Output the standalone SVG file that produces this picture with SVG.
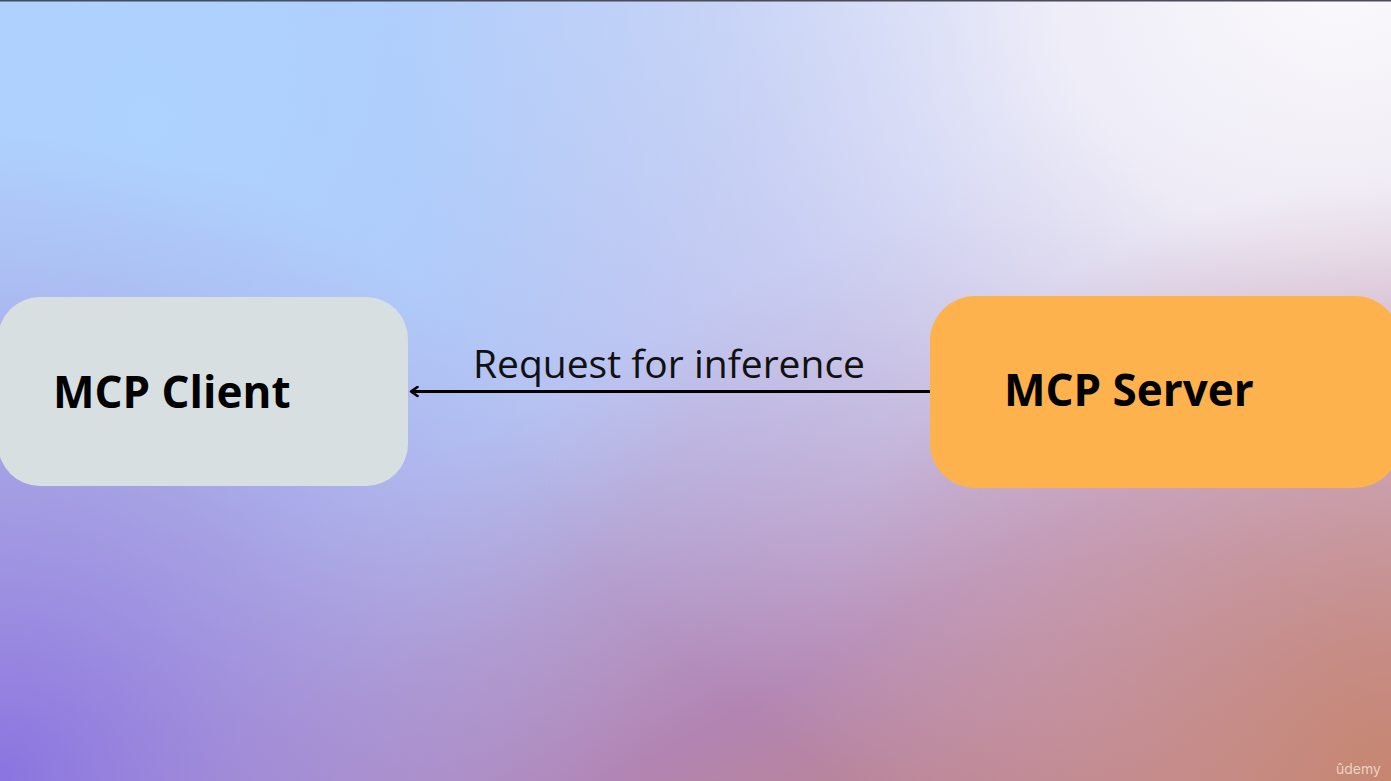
<svg xmlns="http://www.w3.org/2000/svg" width="1391" height="781" viewBox="0 0 1391 781">
<defs>
<linearGradient id="base" x1="0" y1="0" x2="1" y2="1">
<stop offset="0" stop-color="#b0d4fe"/>
<stop offset="0.45" stop-color="#b6bcee"/>
<stop offset="0.72" stop-color="#b284b2"/>
<stop offset="1" stop-color="#c6866c"/>
</linearGradient>
<radialGradient id="white" cx="1340" cy="-40" r="960" gradientUnits="userSpaceOnUse">
<stop offset="0" stop-color="#fcfafc" stop-opacity="1"/>
<stop offset="0.3" stop-color="#f4f2f9" stop-opacity="0.9"/>
<stop offset="0.65" stop-color="#e4e8fa" stop-opacity="0.4"/>
<stop offset="1" stop-color="#e0e0f4" stop-opacity="0"/>
</radialGradient>
<radialGradient id="blue" cx="150" cy="120" r="620" gradientUnits="userSpaceOnUse">
<stop offset="0" stop-color="#aed3fe" stop-opacity="1"/>
<stop offset="0.5" stop-color="#aecffd" stop-opacity="0.7"/>
<stop offset="1" stop-color="#aec8f8" stop-opacity="0"/>
</radialGradient>
<radialGradient id="purple" cx="0" cy="781" r="650" gradientUnits="userSpaceOnUse">
<stop offset="0" stop-color="#8a74e0" stop-opacity="1"/>
<stop offset="0.5" stop-color="#9e88d8" stop-opacity="0.6"/>
<stop offset="1" stop-color="#a898dc" stop-opacity="0"/>
</radialGradient>
<radialGradient id="salmon" cx="1391" cy="781" r="600" gradientUnits="userSpaceOnUse">
<stop offset="0" stop-color="#c68670" stop-opacity="1"/>
<stop offset="0.6" stop-color="#c48a96" stop-opacity="0.5"/>
<stop offset="1" stop-color="#c08aa0" stop-opacity="0"/>
</radialGradient>
<marker id="arr" viewBox="0 0 12 12" refX="10" refY="6" markerWidth="12" markerHeight="12" markerUnits="userSpaceOnUse" orient="auto">
<path d="M3.5,1.5 L10,6 L3.5,10.5" fill="none" stroke="#000" stroke-width="2.6" stroke-linecap="round" stroke-linejoin="round"/>
</marker>
<style>
.node-title{font-family:"Open Sans","Liberation Sans",sans-serif;font-weight:700;font-size:44px;fill:#000}
.label{font-family:"Open Sans","Liberation Sans",sans-serif;font-weight:400;font-size:39px;fill:#111}
</style>
</defs>
<g id="background">
<rect width="1391" height="781" fill="url(#base)"/>
<rect width="1391" height="781" fill="url(#blue)"/>
<rect width="1391" height="781" fill="url(#white)"/>
<rect width="1391" height="781" fill="url(#purple)"/>
<rect width="1391" height="781" fill="url(#salmon)"/>
<rect width="1391" height="1.5" fill="#4a4a5a"/>
</g>
<g id="connectors">
<line x1="930" y1="391.5" x2="411" y2="391.5" stroke="#000" stroke-width="3" marker-end="url(#arr)"/>
<text class="label" x="669" y="378" text-anchor="middle">Request for inference</text>
</g>
<g id="mcp-client">
<rect x="-2" y="297" width="410" height="189" rx="42" fill="#d8dfe0"/>
<text class="node-title" x="53" y="408">MCP Client</text>
</g>
<g id="mcp-server">
<rect x="930" y="296" width="470" height="192" rx="45" fill="#fdb24e"/>
<text class="node-title" x="1004" y="406">MCP Server</text>
</g>
<text x="1336" y="774" font-family="Inter,'Liberation Sans',sans-serif" font-size="14" fill="#f0e0da" fill-opacity="0.85">ûdemy</text>
</svg>
